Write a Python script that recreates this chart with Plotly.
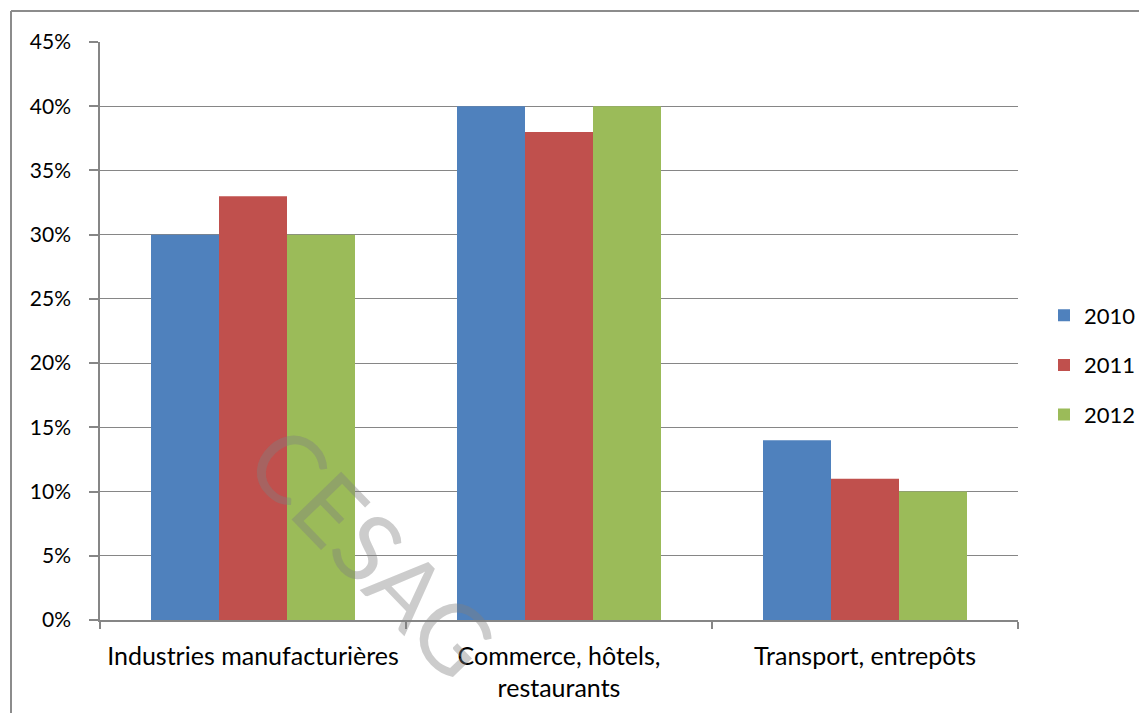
import plotly.graph_objects as go

categories = ["Industries manufacturières", "Commerce, hôtels,<br>restaurants", "Transport, entrepôts"]
years = ["2010", "2011", "2012"]
values_2010 = [0.30, 0.40, 0.14]
values_2011 = [0.33, 0.38, 0.11]
values_2012 = [0.30, 0.40, 0.10]
series = [values_2010, values_2011, values_2012]
colors = ["#4F81BD", "#C0504D", "#9BBB59"]

FONT = "Lato, Carlito, Calibri, sans-serif"
GRID = "#868686"

fig = go.Figure()
for name, vals, col in zip(years, series, colors):
    fig.add_trace(go.Bar(
        x=categories, y=vals, name=name, legendgroup=name,
        marker=dict(color=col, line=dict(width=0)),
    ))

# page body has an 8px margin, so figure coordinates = screen - 8
OFF = 8
W, H = 1147 - OFF, 713 - OFF
L, R, T, B = 100 - OFF, 1018 - OFF, 42 - OFF, 620 - OFF

def px(x):
    return (x - OFF - L) / (R - L)

def py(y):
    return (B - (y - OFF)) / (B - T)

fig.update_layout(
    width=W, height=H,
    margin=dict(l=L, r=W - R, t=T, b=H - B, autoexpand=False),
    paper_bgcolor="white", plot_bgcolor="white",
    barmode="group", bargap=1/3, bargroupgap=0,
    font=dict(family=FONT, size=21, color="black"),
    legend=dict(
        x=px(1044), xanchor="left", y=py(365), yanchor="middle",
        font=dict(family=FONT, size=22, color="black"),
        traceorder="grouped", tracegroupgap=18,
        itemwidth=30, borderwidth=0,
    ),
    xaxis=dict(
        showline=True, linecolor=GRID, linewidth=1.5,
        ticks="outside", tickson="boundaries", ticklen=7, tickcolor=GRID, tickwidth=1.5,
        ticklabelstandoff=13, tickangle=0, automargin=False,
        tickfont=dict(family=FONT, size=25, color="black"),
        showgrid=False,
    ),
    yaxis=dict(
        range=[0, 0.45], dtick=0.05, tickformat=".0%",
        showgrid=True, gridcolor=GRID, gridwidth=1.3,
        showline=True, linecolor=GRID, linewidth=1.5,
        ticks="outside", ticklen=9, tickcolor=GRID, tickwidth=1.5,
        ticklabelstandoff=14, automargin=False,
        tickfont=dict(family=FONT, size=21, color="black"),
        zeroline=False,
    ),
    shapes=[
        dict(type="line", xref="paper", yref="paper",
             x0=px(11), x1=px(1160), y0=py(11), y1=py(11),
             line=dict(color="#8c8c8c", width=2)),
        dict(type="line", xref="paper", yref="paper",
             x0=px(11), x1=px(11), y0=py(11), y1=py(730),
             line=dict(color="#8c8c8c", width=2)),
    ],
    annotations=[
        dict(text="CESAG", xref="paper", yref="paper",
             x=px(374), y=py(550), xanchor="center", yanchor="middle",
             textangle=46, showarrow=False,
             font=dict(family="Lato, sans-serif", size=96, color="rgba(128,128,128,0.4)")),
    ],
)

fig.write_html("out.html")
